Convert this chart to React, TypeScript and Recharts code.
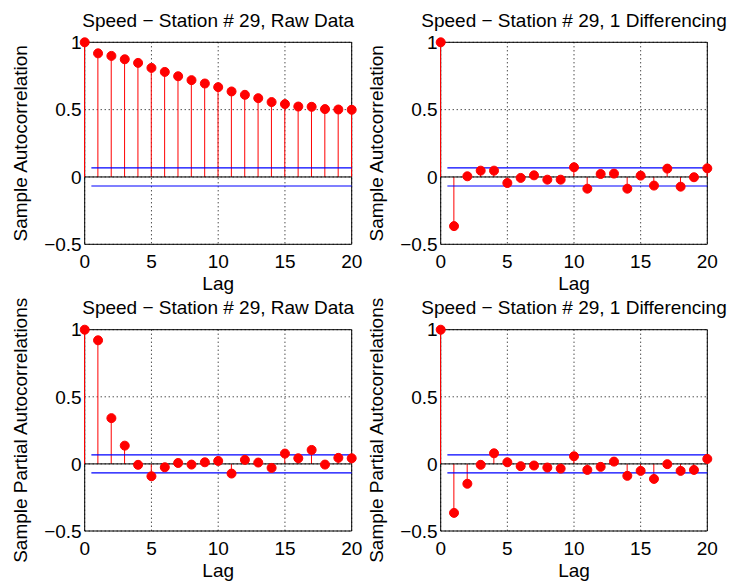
import React from 'react';
import {
  ComposedChart,
  Bar,
  Line,
  XAxis,
  YAxis,
  CartesianGrid,
  ReferenceLine,
  ReferenceArea,
} from 'recharts';

const lags = [0, 1, 2, 3, 4, 5, 6, 7, 8, 9, 10, 11, 12, 13, 14, 15, 16, 17, 18, 19, 20];

const acfRaw = [1, 0.918, 0.899, 0.874, 0.847, 0.81, 0.78, 0.748, 0.719, 0.694, 0.667, 0.635, 0.61, 0.585, 0.556, 0.541, 0.523, 0.521, 0.504, 0.501, 0.499];
const acfDiff = [1, -0.365, 0.005, 0.047, 0.047, -0.045, -0.007, 0.012, -0.02, -0.02, 0.072, -0.087, 0.022, 0.025, -0.087, 0.01, -0.064, 0.062, -0.072, -0.002, 0.064];
const pacfRaw = [1, 0.921, 0.341, 0.136, -0.007, -0.092, -0.025, 0.007, -0.005, 0.012, 0.022, -0.072, 0.03, 0.01, -0.03, 0.077, 0.042, 0.104, -0.005, 0.045, 0.042];
const pacfDiff = [1, -0.365, -0.148, -0.007, 0.079, 0.012, -0.017, -0.012, -0.027, -0.035, 0.057, -0.045, -0.022, 0.017, -0.089, -0.052, -0.112, -0.002, -0.052, -0.045, 0.037];

const bound = 0.067;

const xTicks = [0, 5, 10, 15, 20];
const yTicks = [-0.5, 0, 0.5, 1];

const titleRaw = 'Speed \u2212 Station # 29, Raw Data';
const titleDiff = 'Speed \u2212 Station # 29, 1 Differencing';
const xLabel = 'Lag';
const yLabelAcf = 'Sample Autocorrelation';
const yLabelPacf = 'Sample Partial Autocorrelations';

const FONT = '"Liberation Sans", Arial, Helvetica, sans-serif';
const FS = 19;

const fmtY = (v: number) => (v < 0 ? '\u2212' + String(Math.abs(v)) : String(v));

type PanelProps = {
  values: number[];
  left: number;
  top: number;
  width: number;
  height: number;
  plotLeft: number;
  plotRight: number;
  plotTop: number;
  plotBottom: number;
};

function Panel({ values, left, top, width, height, plotLeft, plotRight, plotTop, plotBottom }: PanelProps) {
  const data = lags.map((lag, i) => ({ lag, v: values[i] }));
  return (
    <div style={{ position: 'absolute', left, top, width, height }}>
      <ComposedChart
        width={width}
        height={height}
        data={data}
        margin={{ top: plotTop, right: width - plotRight, bottom: 0, left: 0 }}
      >
        <CartesianGrid stroke="#000" strokeDasharray="1 3" />
        <XAxis
          type="number"
          dataKey="lag"
          domain={[0, 20]}
          ticks={xTicks}
          interval={0}
          height={height - plotBottom}
          tickLine={false}
          axisLine={false}
          tickSize={6}
          tickMargin={4.5}
          tick={{ fontSize: FS, fill: '#000', fontFamily: FONT }}
        />
        <YAxis
          type="number"
          domain={[-0.5, 1]}
          ticks={yTicks}
          interval={0}
          width={plotLeft}
          tickLine={false}
          axisLine={false}
          tickSize={3}
          tickMargin={0}
          tickFormatter={fmtY}
          tick={{ fontSize: FS, fill: '#000', fontFamily: FONT }}
        />
        <ReferenceArea x1={0} x2={20} y1={-0.5} y2={1} fill="none" stroke="#000" strokeWidth={1} ifOverflow="visible" />
        <ReferenceLine y={0} stroke="#000" strokeWidth={1} />
        <ReferenceLine segment={[{ x: 0.5, y: bound }, { x: 20, y: bound }]} stroke="#0000ff" strokeWidth={1.2} />
        <ReferenceLine segment={[{ x: 0.5, y: -bound }, { x: 20, y: -bound }]} stroke="#0000ff" strokeWidth={1.2} />
        <Bar dataKey="v" barSize={1} fill="#ff0000" isAnimationActive={false} />
        <Line
          dataKey="v"
          stroke="none"
          strokeWidth={0}
          dot={{ r: 4.5, fill: '#ff0000', stroke: '#ff0000', strokeWidth: 1 }}
          activeDot={false}
          isAnimationActive={false}
        />
      </ComposedChart>
    </div>
  );
}

export default function App() {
  const textStyle = { fontFamily: FONT, fontSize: FS, fill: '#000' } as const;
  return (
    <div style={{ position: 'absolute', left: 0, top: 0, width: 732, height: 584, background: '#fff' }}>
      <Panel values={acfRaw} left={0} top={0} width={366} height={290} plotLeft={84.7} plotRight={351.7} plotTop={42.3} plotBottom={244.3} />
      <Panel values={acfDiff} left={366} top={0} width={366} height={290} plotLeft={74.7} plotRight={341.3} plotTop={42.3} plotBottom={244.3} />
      <Panel values={pacfRaw} left={0} top={290} width={366} height={294} plotLeft={84.7} plotRight={351.7} plotTop={39.7} plotBottom={241} />
      <Panel values={pacfDiff} left={366} top={290} width={366} height={294} plotLeft={74.7} plotRight={341.3} plotTop={39.7} plotBottom={241} />
      <svg width={732} height={584} style={{ position: 'absolute', left: 0, top: 0, pointerEvents: 'none' }}>
        <text x={218.2} y={26.7} textAnchor="middle" style={textStyle}>{titleRaw}</text>
        <text x={574} y={26.7} textAnchor="middle" style={textStyle}>{titleDiff}</text>
        <text x={218.2} y={314.1} textAnchor="middle" style={textStyle}>{titleRaw}</text>
        <text x={574} y={314.1} textAnchor="middle" style={textStyle}>{titleDiff}</text>
        <text x={218.2} y={290.3} textAnchor="middle" style={textStyle}>{xLabel}</text>
        <text x={574} y={290.3} textAnchor="middle" style={textStyle}>{xLabel}</text>
        <text x={218.2} y={576.5} textAnchor="middle" style={textStyle}>{xLabel}</text>
        <text x={574} y={576.5} textAnchor="middle" style={textStyle}>{xLabel}</text>
        <text x={27} y={143.3} textAnchor="middle" transform="rotate(-90 27 143.3)" style={textStyle}>{yLabelAcf}</text>
        <text x={383} y={143.3} textAnchor="middle" transform="rotate(-90 383 143.3)" style={textStyle}>{yLabelAcf}</text>
        <text x={27} y={430.3} textAnchor="middle" transform="rotate(-90 27 430.3)" style={textStyle}>{yLabelPacf}</text>
        <text x={383} y={430.3} textAnchor="middle" transform="rotate(-90 383 430.3)" style={textStyle}>{yLabelPacf}</text>
      </svg>
    </div>
  );
}
